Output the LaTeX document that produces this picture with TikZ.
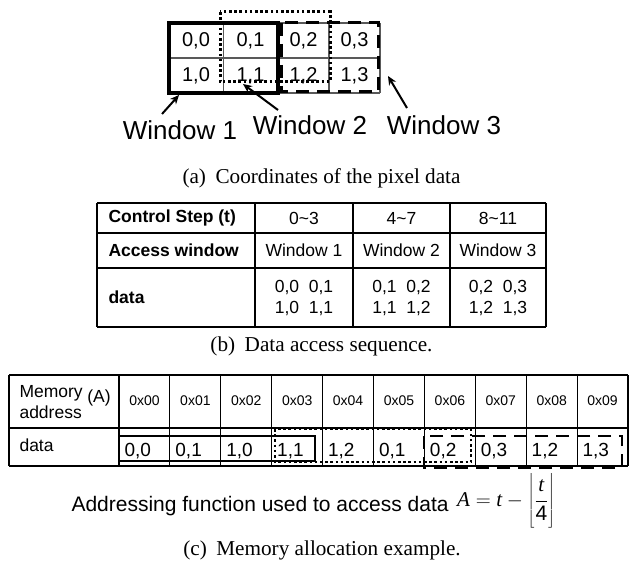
\documentclass[tikz,border=0pt]{standalone}
\usepackage{fontspec}
\setmainfont{Liberation Sans}
\newfontfamily\capfont{Liberation Serif}
\usetikzlibrary{arrows.meta}

\tikzset{
  cell/.style={font=\fontsize{20}{24}\selectfont},
  lbl/.style={font=\fontsize{26}{30}\selectfont},
  tab/.style={font=\fontsize{17.5}{21}\selectfont},
  addr/.style={font=\fontsize{14}{17}\selectfont},
  mval/.style={font=\fontsize{19}{23}\selectfont, anchor=west},
  subcap/.style={font=\capfont\fontsize{21.2}{25}\selectfont},
  rule/.style={line width=1.1pt},
  ptr/.style={line width=2pt, -{Stealth[length=9pt,width=8pt]}},
  win1/.style={line width=3.2pt},
  win2/.style={line width=3pt, dash pattern=on 2.6pt off 2.6pt},
  win3/.style={line width=3pt, dash pattern=on 13pt off 8pt},
}

\begin{document}
\begin{tikzpicture}[x=1pt,y=-1pt]
  \useasboundingbox (0,0) rectangle (629,564);

  % Pixel grid
  \foreach \x in {169,223.5,278,329,380} \draw[rule, gray!70!black] (\x,23) -- (\x,93);
  \foreach \y in {23,58,93} \draw[rule, gray!70!black] (169,\y) -- (380,\y);
  \foreach \r/\y in {0/40.5,1/75.5}
    \foreach \c/\x in {0/196,1/250.5,2/303.5,3/354.5}
      \node[cell] (p\r\c) at (\x,\y) {\r,\c};

  % Windows on the grid
  \draw[win1] (169,23) rectangle (278,93);
  \draw[win2] (220,12) rectangle (330,82);
  \draw[win3] (281,23) rectangle (378,92);

  % Window labels
  \node[lbl] (w1) at (180,130) {Window 1};
  \node[lbl] (w2) at (310,125) {Window 2};
  \node[lbl] (w3) at (444,125) {Window 3};
  \coordinate (w1s) at (162,114); \coordinate (w1e) at (179,95);
  \coordinate (w2s) at (278,110); \coordinate (w2e) at (243,84);
  \coordinate (w3s) at (407,108); \coordinate (w3e) at (388,76);
  \draw[ptr] (w1s) -- (w1e);
  \draw[ptr] (w2s) -- (w2e);
  \draw[ptr] (w3s) -- (w3e);

  \node[subcap] (capa) at (321.5,178) {(a)\hspace{0.45em}Coordinates of the pixel data};

  % Access table
  \foreach \y in {203,233,268,327} \draw[rule] (97,\y) -- (546,\y);
  \foreach \x in {97,255,353,450,546} \draw[rule] (\x,203) -- (\x,327);
  \node[tab, anchor=west] (hstep) at (105,218) {\bfseries Control Step (t)};
  \node[tab, anchor=west] (hwin) at (105,250.5) {\bfseries Access window};
  \node[tab, anchor=west] (hdata) at (105,297.5) {\bfseries data};
  \node[tab] (t1) at (304,218) {0\textasciitilde 3};
  \node[tab] (t2) at (401.5,218) {4\textasciitilde 7};
  \node[tab] (t3) at (498,218) {8\textasciitilde 11};
  \node[tab] (aw1) at (304,250.5) {Window 1};
  \node[tab] (aw2) at (401.5,250.5) {Window 2};
  \node[tab] (aw3) at (498,250.5) {Window 3};
  \node[tab, align=center] (dw1) at (304,298) {0,0~~0,1\\1,0~~1,1};
  \node[tab, align=center] (dw2) at (401.5,298) {0,1~~0,2\\1,1~~1,2};
  \node[tab, align=center] (dw3) at (498,298) {0,2~~0,3\\1,2~~1,3};

  \node[subcap] (capb) at (321.5,346) {(b)\hspace{0.45em}Data access sequence.};

  % Memory table
  \foreach \y in {375,428,466} \draw[rule] (9,\y) -- (628,\y);
  \draw[rule] (9,375) -- (9,466);
  \foreach \i in {0,...,10} \draw[rule] ({119+50.9*\i},375) -- ({119+50.9*\i},466);
  \node[tab, anchor=west, align=left] (mhead) at (16,402) {Memory\\address};
  \node[tab] (mA) at (99,398) {(A)};
  \foreach \i in {0,...,9} \node[addr] (a\i) at ({144.5+50.9*\i},401) {0x0\i};
  \node[tab, anchor=west] (mdata) at (16,445) {data};
  \foreach \i/\r/\c in {0/0/0,1/0/1,2/1/0,3/1/1,4/1/2,5/0/1,6/0/2,7/0/3,8/1/2,9/1/3}
    \node[mval] (d\i) at ({121+50.9*\i},451) {\r,\c};

  % Windows in memory
  \draw[win1, line width=2.6pt] (119,436) rectangle (315,461);
  \draw[win2, line width=2.6pt] (275,429) rectangle (471,462);
  \draw[win3, line width=2.8pt] (424,436) rectangle (622,468);

  % Addressing function
  \node[font=\fontsize{21}{25}\selectfont, anchor=west] (ftext) at (68,506) {Addressing function used to access data};
  \node[font=\fontsize{21}{25}\selectfont, anchor=west, inner sep=0pt] (feq) at (457,501)
    {$\displaystyle\mbox{\capfont\itshape A}=\mbox{\capfont\itshape t}-\left\lfloor\vrule height 34pt depth 24pt width 0pt
      \frac{\mbox{\capfont\itshape t}}{\mbox{4}}\right\rfloor$};

  \node[subcap] (capc) at (322,550) {(c)\hspace{0.45em}Memory allocation example.};
\end{tikzpicture}
\end{document}
